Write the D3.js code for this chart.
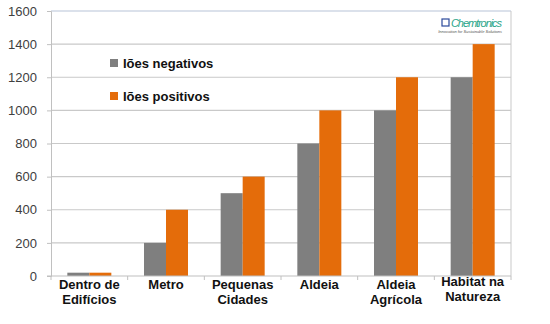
<!DOCTYPE html>
<html>
<head>
<meta charset="utf-8">
<script src="https://cdn.jsdelivr.net/npm/d3@7"></script>
<style>
  body { margin: 0; background: #fff; }
  svg { font-family: Arial, "Liberation Sans", sans-serif; }
</style>
</head>
<body>
<div id="chart"></div>
<script>
const categories = [
  ["Dentro de", "Edifícios"],
  ["Metro"],
  ["Pequenas", "Cidades"],
  ["Aldeia"],
  ["Aldeia", "Agrícola"],
  ["Habitat na", "Natureza"]
];
const negativos = [20, 200, 500, 800, 1000, 1200];
const positivos = [20, 400, 600, 1000, 1200, 1400];
const seriesNames = ["Iões negativos", "Iões positivos"];
const yTicks = [0, 200, 400, 600, 800, 1000, 1200, 1400, 1600];

const w = 550, h = 324;
const margin = { top: 11, right: 39, bottom: 48, left: 51 };
const colors = ["#7f7f7f", "#e46c0a"];

const svg = d3.select("#chart").append("svg").attr("width", w).attr("height", h);

const x = d3.scaleBand()
  .domain(d3.range(categories.length))
  .range([margin.left, w - margin.right]);

const y = d3.scaleLinear()
  .domain([0, 1600])
  .range([h - margin.bottom, margin.top]);

const barW = 22;

// gridlines
svg.append("g")
  .selectAll("line")
  .data(yTicks.slice(1))
  .enter().append("line")
  .attr("x1", margin.left).attr("x2", w - margin.right)
  .attr("y1", d => y(d)).attr("y2", d => y(d))
  .attr("stroke", d => d === 1600 ? "#b7c4d8" : "#c9c9c9")
  .attr("stroke-width", 1.2);

// right border
svg.append("line")
  .attr("x1", w - margin.right).attr("x2", w - margin.right)
  .attr("y1", y(1600)).attr("y2", y(0))
  .attr("stroke", "#c9c9c9");

// bars
const groups = svg.append("g")
  .selectAll("g")
  .data(categories.map((c, i) => [negativos[i], positivos[i]]))
  .enter().append("g")
  .attr("transform", (d, i) => `translate(${x(i) + x.bandwidth() / 2 - barW},0)`);

groups.selectAll("rect")
  .data(d => d)
  .enter().append("rect")
  .attr("x", (d, j) => j * barW)
  .attr("width", barW)
  .attr("y", d => y(d))
  .attr("height", d => y(0) - y(d))
  .attr("fill", (d, j) => colors[j]);

// y axis
const yAxis = svg.append("g")
  .attr("transform", `translate(${margin.left},0)`)
  .call(d3.axisLeft(y).tickValues(yTicks).tickFormat(d3.format("d")).tickSize(4).tickPadding(10));
yAxis.select(".domain").attr("stroke", "#c0c0c0");
yAxis.selectAll(".tick line").attr("stroke", "#c0c0c0");
yAxis.selectAll("text")
  .attr("font-size", 13)
  .attr("fill", "#404040");

// x axis
const xAxis = svg.append("g")
  .attr("transform", `translate(0,${y(0)})`);
xAxis.append("line")
  .attr("x1", margin.left - 4).attr("x2", w - margin.right)
  .attr("stroke", "#c0c0c0").attr("stroke-width", 1.2);
xAxis.selectAll(".sep")
  .data(d3.range(categories.length + 1))
  .enter().append("line")
  .attr("x1", i => margin.left + i * x.bandwidth())
  .attr("x2", i => margin.left + i * x.bandwidth())
  .attr("y1", 0).attr("y2", 4)
  .attr("stroke", "#c0c0c0");

const labels = svg.append("g")
  .selectAll("text")
  .data(categories)
  .enter().append("text")
  .attr("x", (d, i) => x(i) + x.bandwidth() / 2)
  .attr("y", (d, i) => i === 5 ? 286 : 289)
  .attr("text-anchor", "middle")
  .attr("font-size", 13)
  .attr("font-weight", "bold")
  .attr("fill", "#111");
labels.selectAll("tspan")
  .data(d => d)
  .enter().append("tspan")
  .attr("x", function () { return d3.select(this.parentNode).attr("x"); })
  .attr("dy", (d, k) => k === 0 ? 0 : 15)
  .text(d => d);

// legend
const legend = svg.append("g")
  .selectAll("g")
  .data(seriesNames)
  .enter().append("g")
  .attr("transform", (d, i) => `translate(110,${63 + i * 33})`);
legend.append("rect")
  .attr("x", 0).attr("y", -4)
  .attr("width", 8).attr("height", 8)
  .attr("fill", (d, i) => colors[i]);
legend.append("text")
  .attr("x", 13).attr("y", 5)
  .attr("font-size", 13)
  .attr("font-weight", "bold")
  .attr("fill", "#111")
  .text(d => d);

// logo
svg.append("rect")
  .attr("x", 442).attr("y", 19)
  .attr("width", 7).attr("height", 7)
  .attr("fill", "none")
  .attr("stroke", "#2b4a9b")
  .attr("stroke-width", 1.2);
svg.append("text")
  .attr("x", 451).attr("y", 27)
  .attr("font-size", 11)
  .attr("font-style", "italic")
  .attr("textLength", 51)
  .attr("fill", "#2aa58a")
  .text("Chemtronics");
svg.append("text")
  .attr("x", 502).attr("y", 33)
  .attr("text-anchor", "end")
  .attr("font-size", 4)
  .attr("font-style", "italic")
  .attr("fill", "#555")
  .text("Innovation for Sustainable Solutions");
</script>
</body>
</html>
